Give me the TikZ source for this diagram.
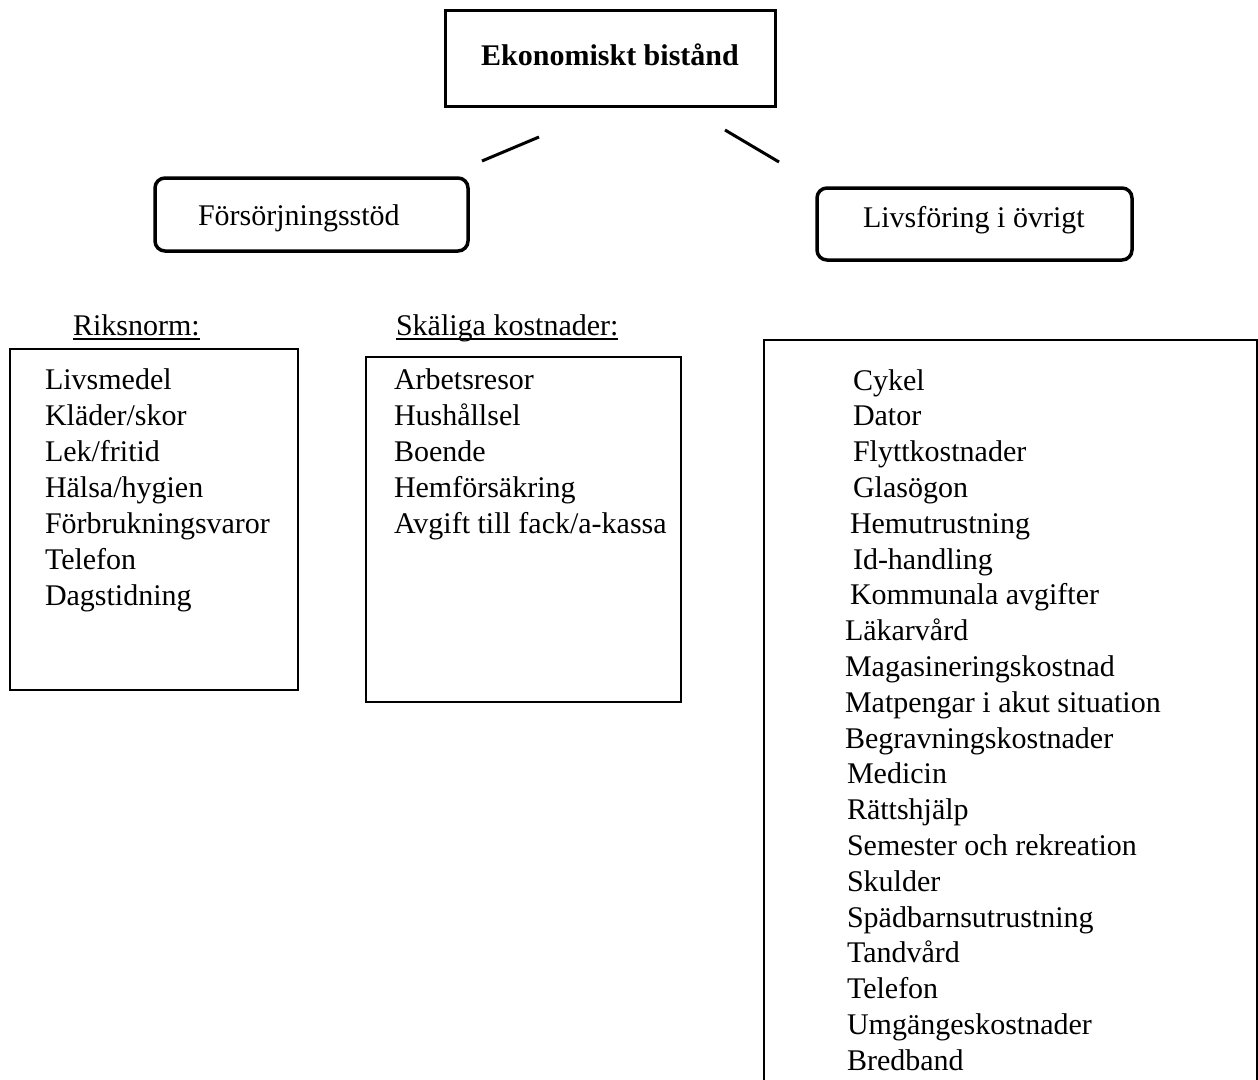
\documentclass[tikz,border=0pt]{standalone}
\usepackage{fontspec}
\setmainfont{Liberation Serif}
\begin{document}
\begin{tikzpicture}[x=1pt,y=-1pt,
  every node/.style={inner sep=0pt, outer sep=0pt},
  txt/.style={font=\fontsize{30}{36}\selectfont, anchor=base west},
  ttl/.style={font=\fontsize{30}{36}\selectfont\bfseries, anchor=base},
  sqbox/.style={draw, line width=2pt, anchor=north west},
  topbox/.style={draw, line width=3pt, anchor=north west},
  rbox/.style={draw, line width=3.5pt, rounded corners=10pt, anchor=north west},
  link/.style={line width=3pt},
  uline/.style={line width=1.5pt}
]
\useasboundingbox (0,0) rectangle (1258,1079);

% top box
\node[topbox, minimum width=330pt, minimum height=96pt] (top) at (445,10) {};
\node[ttl] (title) at (610,65) {Ekonomiskt bistånd};

% connectors
\coordinate (l1a) at (482,161);
\coordinate (l1b) at (539,137);
\coordinate (l2a) at (725,130);
\coordinate (l2b) at (779,162);
\draw[link] (l1a) -- (l1b);
\draw[link] (l2a) -- (l2b);

% rounded boxes
\node[rbox, minimum width=313pt, minimum height=73pt] (fs) at (155,178) {};
\node[txt] (fstxt) at (198,225) {Försörjningsstöd};
\node[rbox, minimum width=315pt, minimum height=72pt] (lf) at (817,188) {};
\node[txt] (lftxt) at (863,227) {Livsföring i övrigt};

% headers
\node[txt] (rn) at (73,335) {Riksnorm:};
\draw[uline] ([yshift=-4pt]rn.base west) -- ([yshift=-4pt]rn.base east);
\node[txt] (sk) at (396,335) {Skäliga kostnader:};
\draw[uline] ([yshift=-4pt]sk.base west) -- ([yshift=-4pt]sk.base east);

% list boxes
\node[sqbox, minimum width=288pt, minimum height=341pt] (lbox) at (10,349) {};
\node[sqbox, minimum width=315pt, minimum height=345pt] (mbox) at (366,357) {};
\draw[line width=2pt] (764,1090) coordinate (rb1) -- (764,340) coordinate (rb2) -- (1257,340) coordinate (rb3) -- (1257,1090) coordinate (rb4);

% left list
\foreach \t [count=\i from 0] in {Livsmedel, Kläder/skor, Lek/fritid, Hälsa/hygien, Förbrukningsvaror, Telefon, Dagstidning}
  \node[txt] (L\i) at (45,389+36*\i) {\t};

% middle list
\foreach \t [count=\i from 0] in {Arbetsresor, Hushållsel, Boende, Hemförsäkring, Avgift till fack/a-kassa}
  \node[txt] (M\i) at (394,389+36*\i) {\t};

% right list
\foreach \t/\xx [count=\i from 0] in {Cykel/853, Dator/853, Flyttkostnader/853, Glasögon/853, Hemutrustning/850, Id-handling/853, Kommunala avgifter/850, Läkarvård/845, Magasineringskostnad/845, Matpengar i akut situation/845, Begravningskostnader/845, Medicin/847, Rättshjälp/847, Semester och rekreation/847, Skulder/847, Spädbarnsutrustning/847, Tandvård/847, Telefon/847, Umgängeskostnader/847, Bredband/847}
  \node[txt] (R\i) at (\xx,390+35.8*\i) {\t};
\end{tikzpicture}
\end{document}
